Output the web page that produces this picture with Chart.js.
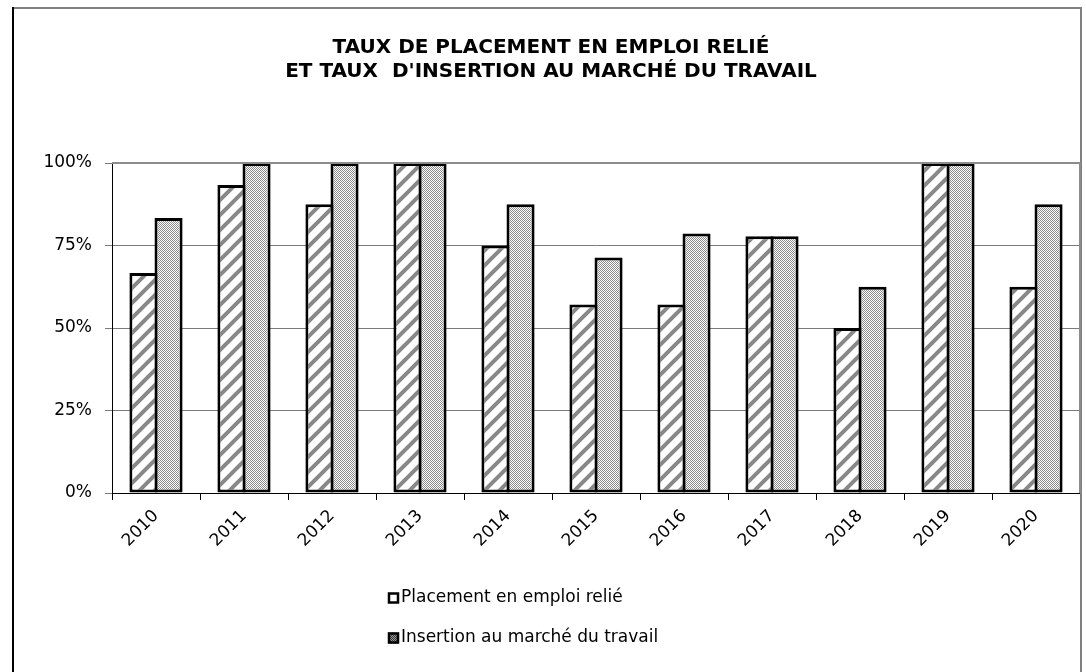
<!DOCTYPE html>
<html>
<head>
<meta charset="utf-8">
<script src="https://cdn.jsdelivr.net/npm/chart.js@4"></script>
<style>
  html, body { margin: 0; padding: 0; background: #ffffff; }
  #wrap { position: relative; width: 1086px; height: 672px; }
</style>
</head>
<body>
<div id="wrap"><canvas id="tauxChart" width="1086" height="672"></canvas></div>
<script>
// Data
const years = ['2010', '2011', '2012', '2013', '2014', '2015', '2016', '2017', '2018', '2019', '2020'];
const placementEmploiRelie = [66.7, 93.3, 87.5, 100, 75, 57.1, 57.1, 77.8, 50, 100, 62.5];
const insertionMarcheTravail = [83.3, 100, 100, 100, 87.5, 71.4, 78.6, 77.8, 62.5, 100, 87.5];
const yTicks = [0, 25, 50, 75, 100];
const seriesLabels = ['Placement en emploi relié', 'Insertion au marché du travail'];
const titleLines = ['TAUX DE PLACEMENT EN EMPLOI RELIÉ', "ET TAUX  D'INSERTION AU MARCHÉ DU TRAVAIL"];

const fontFamily = "'DejaVu Sans', sans-serif";

// Diagonal stripes, like the Excel hatch fill
function makeStripePattern() {
    const size = 15;
    const c = document.createElement('canvas');
    c.width = size; c.height = size;
    const g = c.getContext('2d');
    g.fillStyle = '#ffffff';
    g.fillRect(0, 0, size, size);
    g.strokeStyle = '#888888';
    g.lineWidth = 4;
    g.beginPath();
    g.moveTo(0, size); g.lineTo(size, 0);
    g.moveTo(-size / 2, size / 2); g.lineTo(size / 2, -size / 2);
    g.moveTo(size / 2, size * 1.5); g.lineTo(size * 1.5, size / 2);
    g.stroke();
    return g.createPattern(c, 'repeat');
}

// Fine checker dither
function makeCheckerPattern(dark, light) {
    const c = document.createElement('canvas');
    c.width = 2; c.height = 2;
    const g = c.getContext('2d');
    g.fillStyle = light;
    g.fillRect(0, 0, 2, 2);
    g.fillStyle = dark;
    g.fillRect(0, 0, 1, 1);
    g.fillRect(1, 1, 1, 1);
    return g.createPattern(c, 'repeat');
}

const stripeFill = makeStripePattern();
const checkerFill = makeCheckerPattern('#8c8c8c', '#ffffff');
const legendChecker = makeCheckerPattern('#333333', '#9a9a9a');

// Outer frame and plot frame
const framePlugin = {
    id: 'frame',
    afterDraw(chart) {
        const ctx = chart.ctx;
        const area = chart.chartArea;
        ctx.save();
        ctx.lineWidth = 2;
        ctx.strokeStyle = '#7f7f7f';
        ctx.beginPath();
        ctx.moveTo(13, 8); ctx.lineTo(1081, 8); ctx.lineTo(1081, 672);
        ctx.stroke();
        ctx.strokeStyle = '#000000';
        ctx.beginPath();
        ctx.moveTo(13, 7); ctx.lineTo(13, 672);
        ctx.stroke();
        ctx.strokeStyle = '#8c8c8c';
        ctx.beginPath();
        ctx.moveTo(area.left, area.top); ctx.lineTo(area.right, area.top); ctx.lineTo(area.right, area.bottom);
        ctx.stroke();
        ctx.restore();
    }
};

// Vertical legend under the axis
const legendPlugin = {
    id: 'stackedLegend',
    afterDraw(chart) {
        const ctx = chart.ctx;
        const boxX = 388, box = 11;
        const rows = [598, 638];
        ctx.save();
        ctx.font = '17px ' + fontFamily;
        ctx.textBaseline = 'middle';
        chart.data.datasets.forEach((ds, i) => {
            const y = rows[i];
            ctx.fillStyle = i === 0 ? '#ffffff' : legendChecker;
            ctx.fillRect(boxX, y - box / 2, box, box);
            ctx.lineWidth = 2.5;
            ctx.strokeStyle = '#000000';
            ctx.strokeRect(boxX + 1, y - box / 2 + 1, box - 2, box - 2);
            ctx.fillStyle = '#000000';
            ctx.fillText(ds.label, boxX + box + 2, y);
        });
        ctx.restore();
    }
};

const ctx = document.getElementById('tauxChart').getContext('2d');
const chart = new Chart(ctx, {
    type: 'bar',
    data: {
        labels: years,
        datasets: [{
            label: seriesLabels[0],
            data: placementEmploiRelie,
            backgroundColor: stripeFill,
            borderColor: '#000000',
            borderWidth: 3,
            borderSkipped: false
        }, {
            label: seriesLabels[1],
            data: insertionMarcheTravail,
            backgroundColor: checkerFill,
            borderColor: '#000000',
            borderWidth: 3,
            borderSkipped: false
        }]
    },
    options: {
        responsive: false,
        animation: false,
        devicePixelRatio: 1,
        categoryPercentage: 0.57,
        barPercentage: 1.12,
        layout: {
            padding: { left: 22, right: 6, top: 0, bottom: 112 }
        },
        plugins: {
            legend: { display: false },
            tooltip: { enabled: false },
            title: {
                display: true,
                text: titleLines,
                color: '#000000',
                font: { family: fontFamily, size: 20, weight: 'bold', lineHeight: 1.2 },
                padding: { top: 36, bottom: 79 }
            }
        },
        scales: {
            x: {
                offset: true,
                grid: {
                    offset: true,
                    drawOnChartArea: false,
                    drawTicks: true,
                    tickLength: 7,
                    color: '#000000'
                },
                border: { color: '#000000', width: 1 },
                ticks: {
                    color: '#000000',
                    font: { family: fontFamily, size: 17 },
                    maxRotation: 45,
                    minRotation: 45,
                    padding: 6
                },
                afterFit(scale) { scale.height = 67; }
            },
            y: {
                min: 0,
                max: 100,
                afterBuildTicks(scale) {
                    scale.ticks = yTicks.map(v => ({ value: v }));
                },
                grid: {
                    color: '#7a7a7a',
                    lineWidth: 1,
                    tickLength: 7
                },
                border: { color: '#000000', width: 1 },
                ticks: {
                    color: '#000000',
                    font: { family: fontFamily, size: 17 },
                    padding: 13,
                    callback: v => v + '%'
                },
                afterFit(scale) { scale.width = 90; }
            }
        }
    },
    plugins: [framePlugin, legendPlugin]
});
</script>
</body>
</html>
